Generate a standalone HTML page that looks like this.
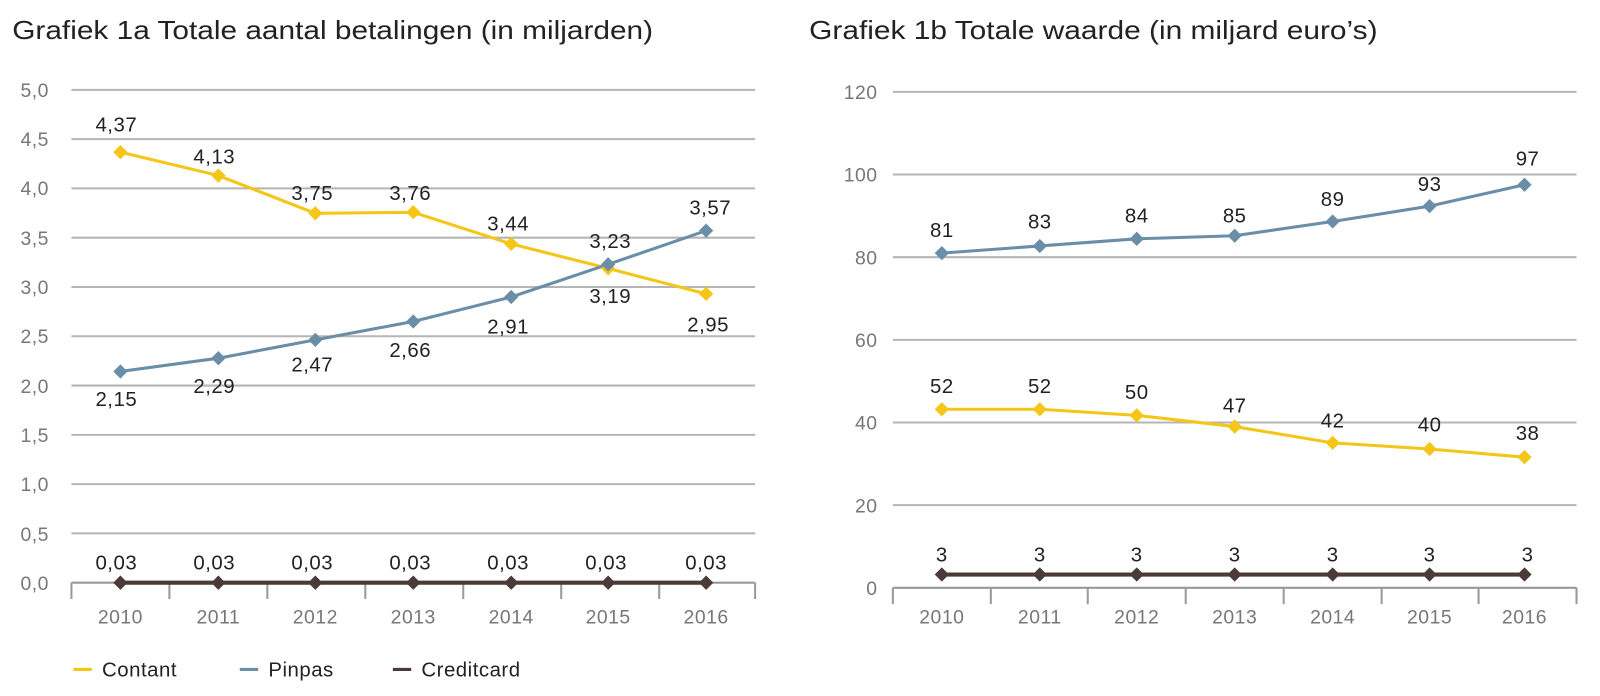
<!DOCTYPE html>
<html><head><meta charset="utf-8"><style>
html,body{margin:0;padding:0;background:#fff;overflow:hidden;}
svg{display:block;font-family:"Liberation Sans",sans-serif;}
.t{font-size:25px;fill:#222;}
.ax{font-size:19px;fill:#777;letter-spacing:0.5px;}
.lb{font-size:20px;fill:#222;letter-spacing:0.5px;}
.g{stroke:#b5b5b5;stroke-width:2;}
</style></head><body>
<svg width="1600" height="696" viewBox="0 0 1568 682">
<text class="t" x="12" y="38" textLength="628" lengthAdjust="spacingAndGlyphs">Grafiek 1a  Totale aantal betalingen (in miljarden)</text>
<text class="t" x="793" y="38" textLength="557" lengthAdjust="spacingAndGlyphs">Grafiek 1b  Totale waarde (in miljard euro’s)</text>
<g id="L">
<g class="g">
<line x1="70" x2="740" y1="88" y2="88"/><line x1="70" x2="740" y1="136.3" y2="136.3"/>
<line x1="70" x2="740" y1="184.6" y2="184.6"/><line x1="70" x2="740" y1="232.9" y2="232.9"/>
<line x1="70" x2="740" y1="281.2" y2="281.2"/><line x1="70" x2="740" y1="329.5" y2="329.5"/>
<line x1="70" x2="740" y1="377.8" y2="377.8"/><line x1="70" x2="740" y1="426.1" y2="426.1"/>
<line x1="70" x2="740" y1="474.4" y2="474.4"/><line x1="70" x2="740" y1="522.7" y2="522.7"/>
<line x1="70" x2="740" y1="571" y2="571" stroke="#999"/>
</g>
<g stroke="#999" stroke-width="2">
<line x1="70" x2="70" y1="571" y2="587"/><line x1="166" x2="166" y1="571" y2="587"/><line x1="262" x2="262" y1="571" y2="587"/><line x1="358" x2="358" y1="571" y2="587"/><line x1="454" x2="454" y1="571" y2="587"/><line x1="550" x2="550" y1="571" y2="587"/><line x1="646" x2="646" y1="571" y2="587"/><line x1="740" x2="740" y1="571" y2="587"/>
</g>
<g class="ax" text-anchor="end">
<text x="48" y="95">5,0</text><text x="48" y="143">4,5</text><text x="48" y="191">4,0</text><text x="48" y="240">3,5</text><text x="48" y="288">3,0</text><text x="48" y="336">2,5</text><text x="48" y="385">2,0</text><text x="48" y="433">1,5</text><text x="48" y="481">1,0</text><text x="48" y="530">0,5</text><text x="48" y="578">0,0</text>
</g>
<g class="ax" text-anchor="middle">
<text x="118" y="611">2010</text><text x="214" y="611">2011</text><text x="309" y="611">2012</text><text x="405" y="611">2013</text><text x="501" y="611">2014</text><text x="596" y="611">2015</text><text x="692" y="611">2016</text>
</g>
<polyline fill="none" stroke="#f5c518" stroke-width="3" points="118,149 214,172 309,209 405,208 501,239 596,263 692,288"/>
<polyline fill="none" stroke="#6a8ea8" stroke-width="3" points="118,364 214,351 309,333 405,315 501,291 596,259 692,226"/>
<polyline fill="none" stroke="#4a3a38" stroke-width="4" points="118,571 692,571"/>
<g fill="#f5c518"><path d="M118,142l7,7l-7,7l-7,-7z"/><path d="M214,165l7,7l-7,7l-7,-7z"/><path d="M309,202l7,7l-7,7l-7,-7z"/><path d="M405,201l7,7l-7,7l-7,-7z"/><path d="M501,232l7,7l-7,7l-7,-7z"/><path d="M596,256l7,7l-7,7l-7,-7z"/><path d="M692,281l7,7l-7,7l-7,-7z"/></g>
<g fill="#6a8ea8"><path d="M118,357l7,7l-7,7l-7,-7z"/><path d="M214,344l7,7l-7,7l-7,-7z"/><path d="M309,326l7,7l-7,7l-7,-7z"/><path d="M405,308l7,7l-7,7l-7,-7z"/><path d="M501,284l7,7l-7,7l-7,-7z"/><path d="M596,252l7,7l-7,7l-7,-7z"/><path d="M692,219l7,7l-7,7l-7,-7z"/></g>
<g fill="#4a3a38"><path d="M118,564l7,7l-7,7l-7,-7z"/><path d="M214,564l7,7l-7,7l-7,-7z"/><path d="M309,564l7,7l-7,7l-7,-7z"/><path d="M405,564l7,7l-7,7l-7,-7z"/><path d="M501,564l7,7l-7,7l-7,-7z"/><path d="M596,564l7,7l-7,7l-7,-7z"/><path d="M692,564l7,7l-7,7l-7,-7z"/></g>
<g class="lb" text-anchor="middle">
<text x="114" y="129">4,37</text><text x="210" y="160">4,13</text><text x="306" y="196">3,75</text><text x="402" y="196">3,76</text><text x="498" y="226">3,44</text><text x="598" y="243">3,23</text><text x="696" y="210">3,57</text>
<text x="598" y="297">3,19</text><text x="694" y="325">2,95</text>
<text x="114" y="398">2,15</text><text x="210" y="385">2,29</text><text x="306" y="364">2,47</text><text x="402" y="350">2,66</text><text x="498" y="327">2,91</text>
<text x="114" y="558">0,03</text><text x="210" y="558">0,03</text><text x="306" y="558">0,03</text><text x="402" y="558">0,03</text><text x="498" y="558">0,03</text><text x="594" y="558">0,03</text><text x="692" y="558">0,03</text>
</g>
</g>
<g>
<g class="g">
<line x1="875" x2="1545" y1="90" y2="90"/><line x1="875" x2="1545" y1="171" y2="171"/><line x1="875" x2="1545" y1="252" y2="252"/><line x1="875" x2="1545" y1="333" y2="333"/><line x1="875" x2="1545" y1="414" y2="414"/><line x1="875" x2="1545" y1="495" y2="495"/>
<line x1="875" x2="1545" y1="576" y2="576" stroke="#999"/>
</g>
<g stroke="#999" stroke-width="2">
<line x1="875" x2="875" y1="576" y2="592"/><line x1="971" x2="971" y1="576" y2="592"/><line x1="1066" x2="1066" y1="576" y2="592"/><line x1="1162" x2="1162" y1="576" y2="592"/><line x1="1258" x2="1258" y1="576" y2="592"/><line x1="1354" x2="1354" y1="576" y2="592"/><line x1="1449" x2="1449" y1="576" y2="592"/><line x1="1545" x2="1545" y1="576" y2="592"/>
</g>
<g class="ax" text-anchor="end">
<text x="860" y="97">120</text><text x="860" y="178">100</text><text x="860" y="259">80</text><text x="860" y="340">60</text><text x="860" y="421">40</text><text x="860" y="502">20</text><text x="860" y="583">0</text>
</g>
<g class="ax" text-anchor="middle">
<text x="923" y="611">2010</text><text x="1019" y="611">2011</text><text x="1114" y="611">2012</text><text x="1210" y="611">2013</text><text x="1306" y="611">2014</text><text x="1401" y="611">2015</text><text x="1494" y="611">2016</text>
</g>
<polyline fill="none" stroke="#6a8ea8" stroke-width="3" points="923,248 1019,241 1114,234 1210,231 1306,217 1401,202 1494,181"/>
<polyline fill="none" stroke="#f5c518" stroke-width="3" points="923,401 1019,401 1114,407 1210,418 1306,434 1401,440 1494,448"/>
<polyline fill="none" stroke="#4a3a38" stroke-width="4" points="923,563 1494,563"/>
<g fill="#6a8ea8"><path d="M923,241l7,7l-7,7l-7,-7z"/><path d="M1019,234l7,7l-7,7l-7,-7z"/><path d="M1114,227l7,7l-7,7l-7,-7z"/><path d="M1210,224l7,7l-7,7l-7,-7z"/><path d="M1306,210l7,7l-7,7l-7,-7z"/><path d="M1401,195l7,7l-7,7l-7,-7z"/><path d="M1494,174l7,7l-7,7l-7,-7z"/></g>
<g fill="#f5c518"><path d="M923,394l7,7l-7,7l-7,-7z"/><path d="M1019,394l7,7l-7,7l-7,-7z"/><path d="M1114,400l7,7l-7,7l-7,-7z"/><path d="M1210,411l7,7l-7,7l-7,-7z"/><path d="M1306,427l7,7l-7,7l-7,-7z"/><path d="M1401,433l7,7l-7,7l-7,-7z"/><path d="M1494,441l7,7l-7,7l-7,-7z"/></g>
<g fill="#4a3a38"><path d="M923,556l7,7l-7,7l-7,-7z"/><path d="M1019,556l7,7l-7,7l-7,-7z"/><path d="M1114,556l7,7l-7,7l-7,-7z"/><path d="M1210,556l7,7l-7,7l-7,-7z"/><path d="M1306,556l7,7l-7,7l-7,-7z"/><path d="M1401,556l7,7l-7,7l-7,-7z"/><path d="M1494,556l7,7l-7,7l-7,-7z"/></g>
<g class="lb" text-anchor="middle">
<text x="923" y="232">81</text><text x="1019" y="224">83</text><text x="1114" y="218">84</text><text x="1210" y="218">85</text><text x="1306" y="202">89</text><text x="1401" y="187">93</text><text x="1497" y="162">97</text>
<text x="923" y="385">52</text><text x="1019" y="385">52</text><text x="1114" y="391">50</text><text x="1210" y="404">47</text><text x="1306" y="419">42</text><text x="1401" y="423">40</text><text x="1497" y="431">38</text>
<text x="923" y="550">3</text><text x="1019" y="550">3</text><text x="1114" y="550">3</text><text x="1210" y="550">3</text><text x="1306" y="550">3</text><text x="1401" y="550">3</text><text x="1497" y="550">3</text>
</g>
</g>
<line x1="72" x2="90" y1="656" y2="656" stroke="#f5c518" stroke-width="3"/>
<text class="lb" x="100" y="663">Contant</text>
<line x1="235" x2="253" y1="656" y2="656" stroke="#6a8ea8" stroke-width="3"/>
<text class="lb" x="263" y="663">Pinpas</text>
<line x1="385" x2="403" y1="656" y2="656" stroke="#4a3a38" stroke-width="3"/>
<text class="lb" x="413" y="663">Creditcard</text>
</svg>
</body></html>
